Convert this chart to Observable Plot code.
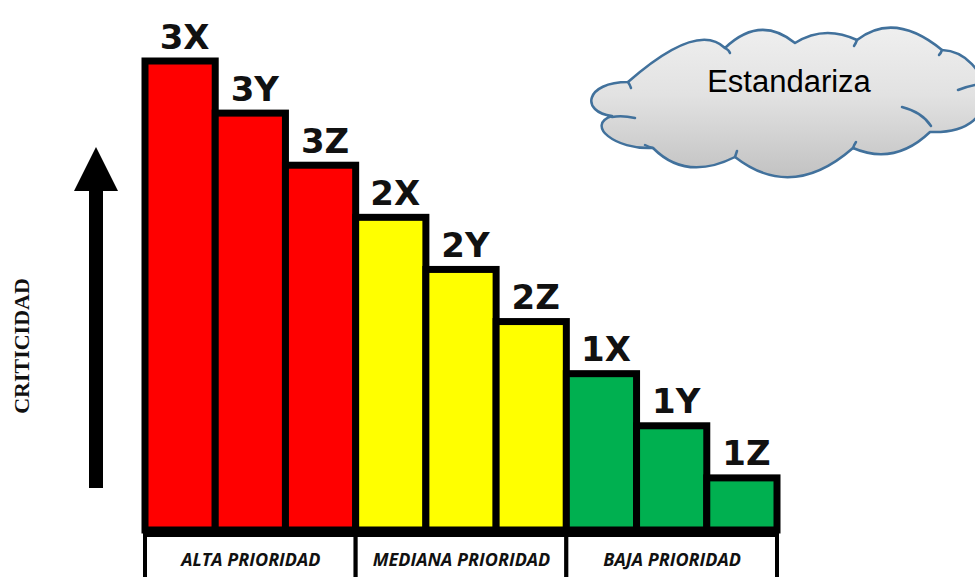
<!DOCTYPE html>
<html>
<head>
<meta charset="utf-8">
<script src="https://cdn.jsdelivr.net/npm/d3@7"></script>
<script src="https://cdn.jsdelivr.net/npm/@observablehq/plot@0.6"></script>
<style>
  html, body { margin: 0; padding: 0; background: #ffffff; }
  #wrap { position: relative; width: 975px; height: 577px; overflow: hidden; }
  #overlay { position: absolute; left: 0; top: 0; pointer-events: none; }
</style>
</head>
<body>
<div id="wrap"></div>
<script>
// ---- data ----
const categories = ["3X", "3Y", "3Z", "2X", "2Y", "2Z", "1X", "1Y", "1Z"];
const criticidad = [9, 8, 7, 6, 5, 4, 3, 2, 1];
const groupOf = [0, 0, 0, 1, 1, 1, 2, 2, 2];
const groupNames = ["ALTA PRIORIDAD", "MEDIANA PRIORIDAD", "BAJA PRIORIDAD"];
const groupColors = ["#ff0000", "#ffff00", "#00b050"];
const axisLabel = "CRITICIDAD";
const cloudText = "Estandariza";

const bars = categories.map((c, i) => ({cat: c, value: criticidad[i], g: groupOf[i], i}));
const groups = groupNames.map((name, g) => {
  const idx = bars.filter(b => b.g === g).map(b => b.i);
  return {name, start: d3.min(idx), end: d3.max(idx) + 1};
});

const chart = Plot.plot({
  width: 975,
  height: 577,
  marginTop: 61,
  marginBottom: 47,
  marginLeft: 145,
  marginRight: 198,
  style: {background: "white"},
  x: {domain: [0, categories.length], axis: null},
  y: {domain: [0, d3.max(criticidad)], axis: null},
  color: {type: "identity"},
  marks: [
    // group boxes under the baseline
    Plot.rect(groups, {
      x1: "start", x2: "end", y1: 0, y2: 0,
      insetTop: 5, insetBottom: -60,
      fill: "white", stroke: "black", strokeWidth: 4
    }),
    Plot.text(groups, {
      x: d => (d.start + d.end) / 2, y: 0, text: "name",
      lineAnchor: "bottom", dy: 35,
      fontFamily: "Open Sans", fontWeight: "bold", fontStyle: "italic", fontSize: 18,
      fill: "#111"
    }),
    // bars
    Plot.rectY(bars, {
      x1: "i", x2: d => d.i + 1, y: "value",
      fill: d => groupColors[d.g],
      stroke: "black", strokeWidth: 7, strokeLinejoin: "miter"
    }),
    // bar labels
    Plot.text(bars, {
      x: d => d.i + 0.5, y: "value", text: "cat",
      lineAnchor: "bottom", dy: -13, dx: 4,
      fontFamily: "DejaVu Sans", fontWeight: "bold", fontSize: 34, fill: "#111"
    }),
    // vertical axis label
    Plot.text([axisLabel], {
      frameAnchor: "left", text: d => d, rotate: -90,
      textAnchor: "middle", lineAnchor: "bottom", dx: -117, dy: 50,
      fontFamily: "Liberation Serif", fontWeight: "bold", fontSize: 22, fill: "#111"
    })
  ]
});

const wrap = document.getElementById("wrap");
wrap.appendChild(chart);

// ---- decorations: block arrow and cloud callout ----
const ns = "http://www.w3.org/2000/svg";
const ov = document.createElementNS(ns, "svg");
ov.setAttribute("id", "overlay");
ov.setAttribute("width", 975);
ov.setAttribute("height", 577);
ov.innerHTML = `
  <defs>
    <linearGradient id="cg" x1="0" y1="0" x2="0" y2="1">
      <stop offset="0" stop-color="#efefef"/>
      <stop offset="0.45" stop-color="#e2e2e2"/>
      <stop offset="1" stop-color="#c2c2c2"/>
    </linearGradient>
  </defs>
  <polygon points="96,147 118,191 103,191 103,488 89,488 89,191 74,191" fill="#000"/>
  <path d="M628,82 Q697.5,21 725,48 Q760,14.5 795,43 Q824,24.5 857,40 Q894.5,11 942,50
           C990,52 1012,135 930,132 Q894.5,166 853,148 Q792,201.5 735,157
           Q686,181.5 653,148 C615,150 585,125 612,116 C580,112 585,82 628,82 Z"
        fill="url(#cg)" stroke="#41719c" stroke-width="2.5" stroke-linejoin="round"/>
  <g fill="none" stroke="#41719c" stroke-width="2.5" stroke-linecap="round">
    <path d="M628,82 q2,3 3,6"/>
    <path d="M725,48 q4,2 5,5"/>
    <path d="M857,40 q-1,3 -3,6"/>
    <path d="M942,50 q-1,3 -3,5"/>
    <path d="M975,85 Q965,87 958,90"/>
    <path d="M902,107 Q922,112 931,126"/>
    <path d="M853,148 q1,-3 3,-6"/>
    <path d="M735,157 q1,-3 2,-6"/>
    <path d="M653,148 q-4,-1 -8,-3"/>
    <path d="M612,117 Q622,115 635,118"/>
  </g>
  <text x="789" y="92" text-anchor="middle" font-family="Liberation Sans, Arial, sans-serif"
        font-size="31" fill="#000">${cloudText}</text>
`;
wrap.appendChild(ov);
</script>
</body>
</html>
